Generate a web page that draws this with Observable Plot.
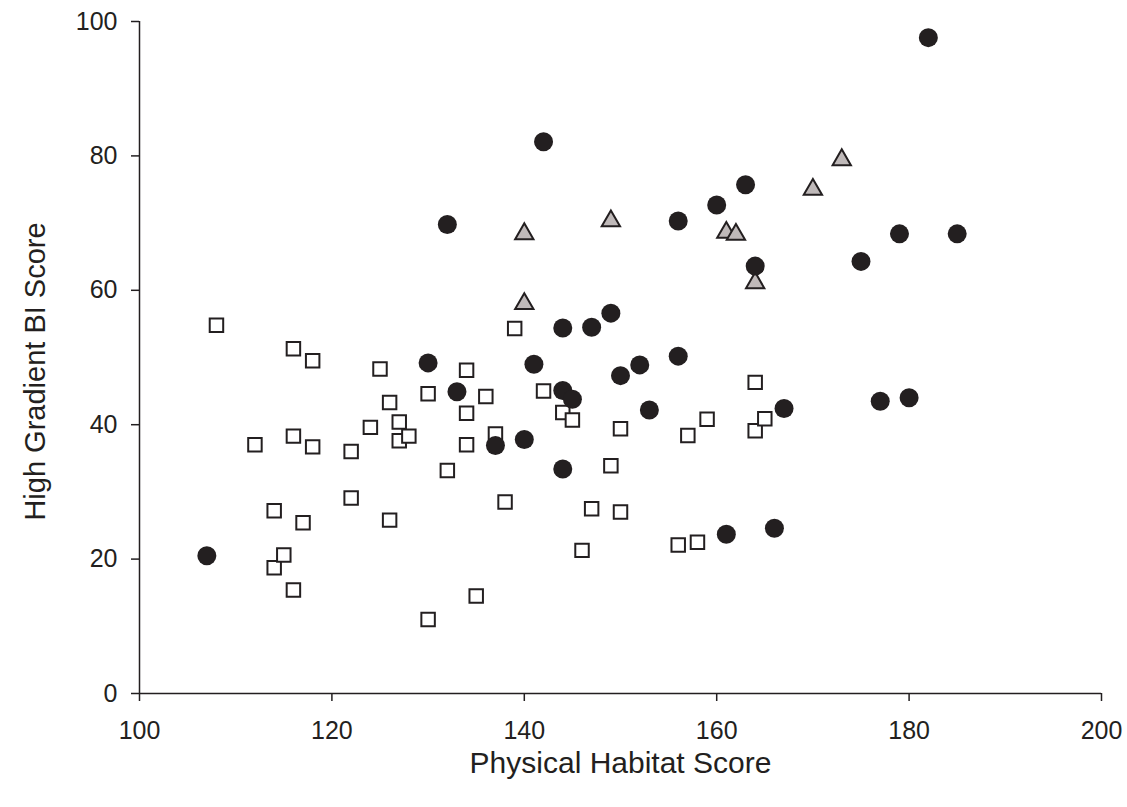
<!DOCTYPE html>
<html>
<head>
<meta charset="utf-8">
<script src="https://cdn.jsdelivr.net/npm/d3@7"></script>
<script src="https://cdn.jsdelivr.net/npm/@observablehq/plot@0.6"></script>
<style>
  html, body { margin: 0; padding: 0; background: #fff; }
</style>
</head>
<body>
<div id="chart"></div>
<script>
// Filled circles
const circleX = [107,130,133,132,137,140,141,142,144,144,144,145,147,149,150,152,153,156,156,160,161,163,164,166,167,175,177,179,180,182,185];
const circleY = [20.5,49.2,44.9,69.8,36.9,37.8,49.0,82.1,54.4,45.1,33.4,43.8,54.5,56.6,47.3,48.9,42.2,50.2,70.3,72.7,23.7,75.7,63.6,24.6,42.4,64.3,43.5,68.4,44.0,97.6,68.4];
// Grey triangles
const triangleX = [140,140,149,161,162,164,170,173];
const triangleY = [58.0,68.4,70.3,68.6,68.3,61.1,75.0,79.4];
// Open squares
const squareX = [108,112,114,114,115,116,116,116,117,118,118,122,122,124,125,126,126,127,127,128,130,130,132,134,134,134,135,136,137,138,139,142,144,145,146,147,149,150,150,156,157,158,159,164,164,165];
const squareY = [54.8,37.0,27.2,18.7,20.6,51.3,38.3,15.4,25.4,49.5,36.7,36.0,29.1,39.6,48.3,43.3,25.8,40.4,37.6,38.3,44.6,11.0,33.2,48.1,41.7,37.0,14.5,44.2,38.6,28.5,54.3,45.0,41.8,40.7,21.3,27.5,33.9,39.4,27.0,22.1,38.4,22.5,40.8,46.3,39.1,40.9];

const xTicks = [100,120,140,160,180,200];
const yTicks = [0,20,40,60,80,100];
const xTitle = "Physical Habitat Score";
const yTitle = "High Gradient BI Score";

const toRows = (xs, ys) => xs.map((x, i) => ({x, y: ys[i]}));
const circles = toRows(circleX, circleY);
const triangles = toRows(triangleX, triangleY);
const squares = toRows(squareX, squareY);

const ink = "#231f20";

const chart = Plot.plot({
  width: 1127,
  height: 807,
  marginLeft: 139,
  marginRight: 26,
  marginTop: 21,
  marginBottom: 114,
  style: {fontFamily: "'Liberation Sans', Arial, sans-serif", color: ink, background: "#fff", overflow: "visible"},
  x: {domain: [100, 200]},
  y: {domain: [0, 100]},
  marks: [
    Plot.axisX({ticks: xTicks, tickSize: 8, tickPadding: 20, fontSize: 25, label: null, stroke: ink, strokeWidth: 1.5, strokeOpacity: 1}),
    Plot.axisY({ticks: yTicks, tickSize: 8, tickPadding: 14, fontSize: 25, label: null, stroke: ink, strokeWidth: 1.5, strokeOpacity: 1}),
    Plot.ruleY([0], {stroke: ink, strokeWidth: 1.5}),
    Plot.ruleX([100], {stroke: ink, strokeWidth: 1.5}),
    Plot.dot(squares, {x: "x", y: "y", symbol: "square", r: 7.6, fill: "#fff", stroke: ink, strokeWidth: 2}),
    Plot.dot(triangles, {x: "x", y: "y", symbol: "triangle", r: 6.8, fill: "#bfb9b9", stroke: ink, strokeWidth: 2}),
    Plot.dot(circles, {x: "x", y: "y", symbol: "circle", r: 9.5, fill: ink, stroke: "none"}),
    Plot.text([xTitle], {frameAnchor: "bottom", lineAnchor: "middle", textAnchor: "middle", dy: 70, fontSize: 30, fill: ink}),
    Plot.text([yTitle], {frameAnchor: "left", lineAnchor: "middle", textAnchor: "middle", dx: -104, dy: 14, rotate: -90, fontSize: 29, fill: ink})
  ]
});
document.getElementById("chart").appendChild(chart);
</script>
</body>
</html>
